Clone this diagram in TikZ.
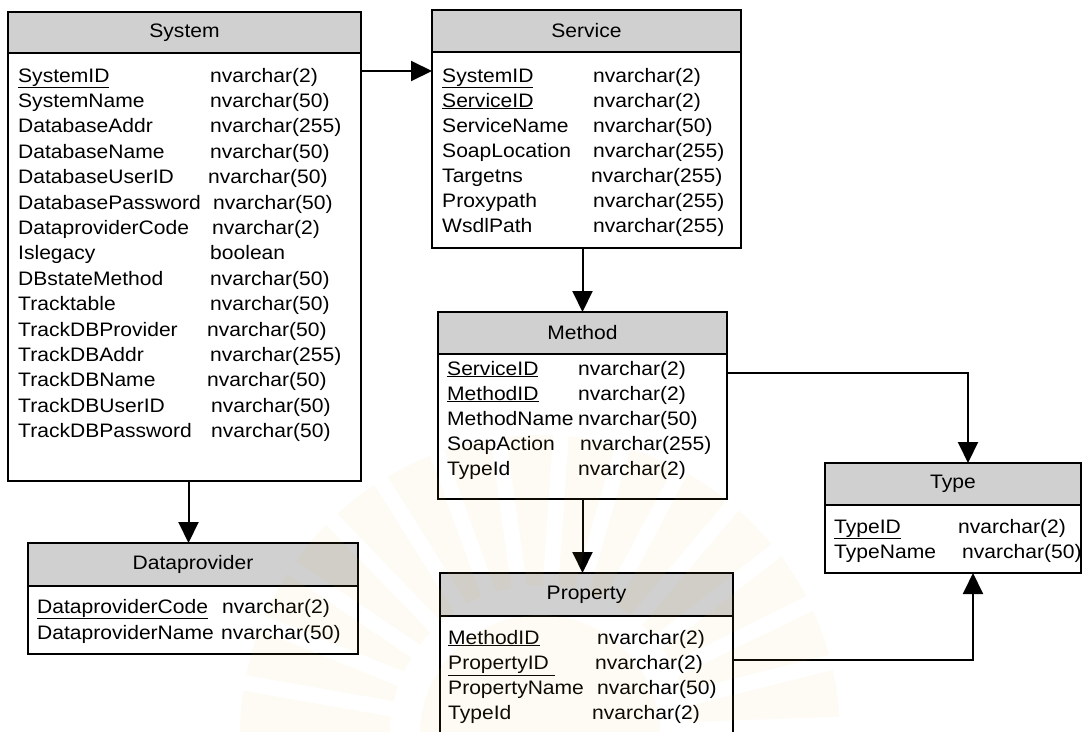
\documentclass[tikz,border=0pt]{standalone}
\usepackage{fontspec}
\setmainfont{Liberation Sans}[FakeStretch=1.08]
\usetikzlibrary{arrows.meta,calc}
\definecolor{hdrgray}{RGB}{208,208,208}
\definecolor{seal}{RGB}{236,190,70}
\newcommand{\erfont}{\fontsize{19.5}{23}\selectfont}

\begin{document}
\begin{tikzpicture}[x=1pt,y=-1pt,
  hdr/.style={draw=black, fill=hdrgray, line width=1.3pt, anchor=north west,
              inner sep=0pt, outer sep=0pt, font=\erfont},
  bodybox/.style={draw=black, fill=white, line width=1.3pt, anchor=north west,
              inner sep=0pt, outer sep=0pt},
  fld/.style={anchor=base west, inner sep=0pt, font=\erfont},
  link/.style={line width=2pt, -{Triangle[length=21pt,width=20pt]}},
  wm/.style={fill=seal, opacity=0.06},
]
\useasboundingbox (0,0) rectangle (1087,731);
\clip (0,0) rectangle (1087,731);

% ---------------- System ----------------
\node[bodybox, minimum width=353pt, minimum height=428pt] (sysb) at (8,53) {};
\node[hdr, minimum width=353pt, minimum height=41pt] (sysh) at (8,12) {System};
\foreach \n/\t/\tx [count=\i from 0] in {
  {\underline{SystemID}}/nvarchar(2)/210,
  SystemName/nvarchar(50)/210,
  DatabaseAddr/nvarchar(255)/210,
  DatabaseName/nvarchar(50)/210,
  DatabaseUserID/nvarchar(50)/208,
  DatabasePassword/nvarchar(50)/213,
  DataproviderCode/nvarchar(2)/212,
  Islegacy/boolean/210,
  DBstateMethod/nvarchar(50)/210,
  Tracktable/nvarchar(50)/210,
  TrackDBProvider/nvarchar(50)/207,
  TrackDBAddr/nvarchar(255)/210,
  TrackDBName/nvarchar(50)/207,
  TrackDBUserID/nvarchar(50)/211,
  TrackDBPassword/nvarchar(50)/211} {
  \node[fld] (sysn\i) at (18,{82+25.4*\i}) {\n};
  \node[fld] (syst\i) at (\tx,{82+25.4*\i}) {\t};
}

% ---------------- Service ----------------
\node[bodybox, minimum width=309pt, minimum height=196pt] (svcb) at (432,52) {};
\node[hdr, minimum width=309pt, minimum height=42pt] (svch) at (432,10) {Service};
\foreach \n/\t/\tx [count=\i from 0] in {
  {\underline{SystemID}}/nvarchar(2)/593,
  {\underline{ServiceID}}/nvarchar(2)/593,
  ServiceName/nvarchar(50)/593,
  SoapLocation/nvarchar(255)/593,
  Targetns/nvarchar(255)/591,
  Proxypath/nvarchar(255)/593,
  WsdlPath/nvarchar(255)/593} {
  \node[fld] (svcn\i) at (442,{82+25*\i}) {\n};
  \node[fld] (svct\i) at (\tx,{82+25*\i}) {\t};
}

% ---------------- Method ----------------
\node[bodybox, minimum width=289pt, minimum height=145pt] (methb) at (438,354) {};
\node[hdr, minimum width=289pt, minimum height=42pt] (methh) at (438,312) {Method};
\foreach \n/\t/\tx [count=\i from 0] in {
  {\underline{ServiceID}}/nvarchar(2)/578,
  {\underline{MethodID}}/nvarchar(2)/578,
  MethodName/nvarchar(50)/578,
  SoapAction/nvarchar(255)/580,
  TypeId/nvarchar(2)/578} {
  \node[fld] (methn\i) at (447,{375+25*\i}) {\n};
  \node[fld] (metht\i) at (\tx,{375+25*\i}) {\t};
}

% ---------------- Type ----------------
\node[bodybox, minimum width=256pt, minimum height=68pt] (typeb) at (825,505) {};
\node[hdr, minimum width=256pt, minimum height=42pt] (typeh) at (825,463) {Type};
\node[fld] (typen0) at (834,533) {\underline{TypeID}};
\node[fld] (typet0) at (958,533) {nvarchar(2)};
\node[fld] (typen1) at (834,558) {TypeName};
\node[fld] (typet1) at (962,558) {nvarchar(50)};

% ---------------- Dataprovider ----------------
\node[bodybox, minimum width=330pt, minimum height=68pt] (dpb) at (28,586) {};
\node[hdr, minimum width=330pt, minimum height=43pt] (dph) at (28,543) {Dataprovider};
\node[fld] (dpn0) at (37,613) {\underline{DataproviderCode}};
\node[fld] (dpt0) at (222,613) {nvarchar(2)};
\node[fld] (dpn1) at (37,639) {DataproviderName};
\node[fld] (dpt1) at (221,639) {nvarchar(50)};

% ---------------- Property ----------------
\node[bodybox, minimum width=293pt, minimum height=130pt] (propb) at (440,616) {};
\node[hdr, minimum width=293pt, minimum height=43pt] (proph) at (440,573) {Property};
\foreach \n/\t/\tx [count=\i from 0] in {
  {\underline{MethodID}}/nvarchar(2)/597,
  {\underline{PropertyID\ }}/nvarchar(2)/595,
  PropertyName/nvarchar(50)/597,
  TypeId/nvarchar(2)/592} {
  \node[fld] (propn\i) at (448,{644+25.3*\i}) {\n};
  \node[fld] (propt\i) at (\tx,{644+25.3*\i}) {\t};
}

% ---------------- Relationships ----------------
\draw[link] ([yshift=-18pt]sysb.north east) -- ([yshift=-18pt]sysb.north east -| svcb.west);
\draw[link] ([xshift=4pt]sysb.south) -- ([xshift=4pt]sysb.south |- dph.north);
\draw[link] (svcb.south -| methh.north) -- (methh.north);
\draw[link] (methb.south) -- (methb.south |- proph.north);
\draw[link] ([yshift=-19pt]methb.north east) -| ([xshift=15pt]typeh.north);
\draw[link] ([yshift=-44pt]propb.north east) -| ([xshift=20pt]typeb.south);

% ---------------- Faint seal over the lower half ----------------
\coordinate (sealc) at (540,735);
\foreach \a in {8,20,...,176} {
  \fill[wm] ($(sealc)+(\a-3:150pt)$) -- ($(sealc)+(\a-4.5:300pt)$)
            arc[start angle=\a-4.5, end angle=\a+4.5, radius=300pt]
            -- ($(sealc)+(\a+3:150pt)$) arc[start angle=\a+3, end angle=\a-3, radius=150pt] -- cycle;
}
\fill[wm] (sealc) circle[radius=120pt];
\end{tikzpicture}
\end{document}
